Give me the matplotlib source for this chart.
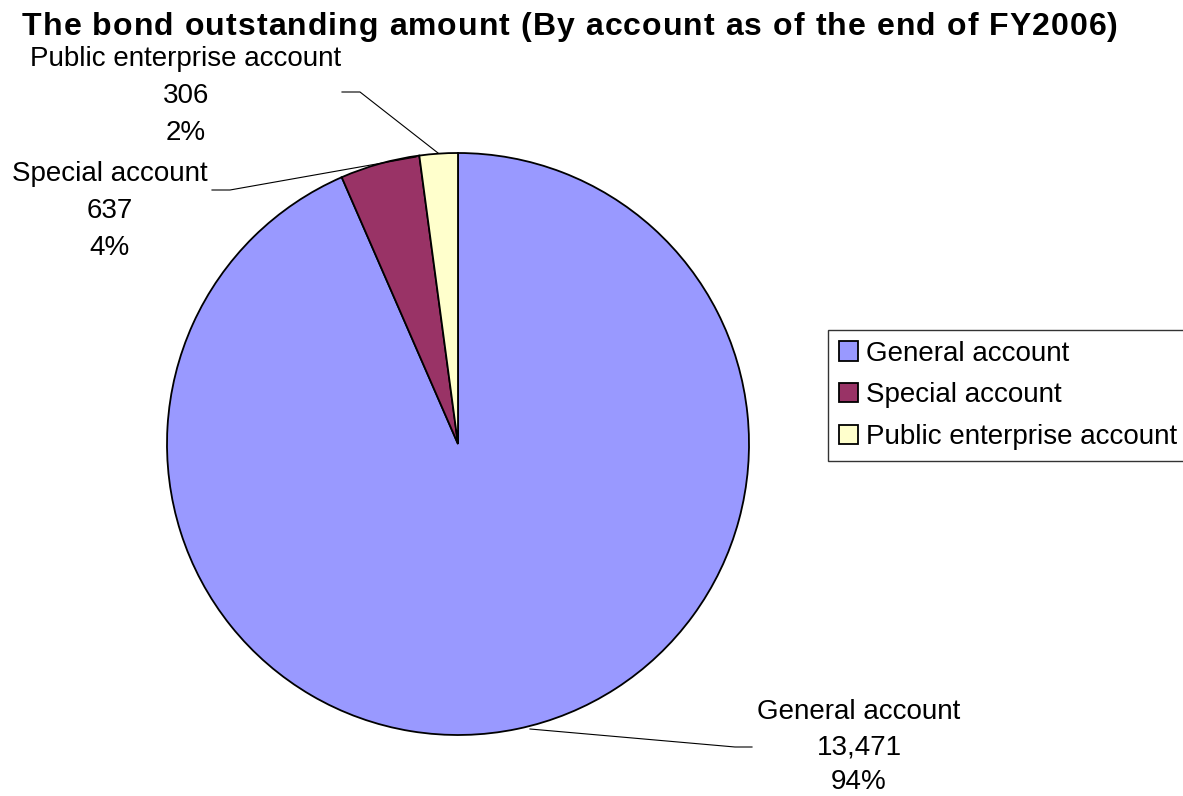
# bond outstanding amount by account, FY2006 - pie with leader labels and legend

import matplotlib.pyplot as plt
from matplotlib.font_manager import FontProperties

plt.rcParams['font.family'] = ['Liberation Sans', 'DejaVu Sans']

accounts = ['General account', 'Special account', 'Public enterprise account']
amounts = [13471, 637, 306]
shares = [94, 4, 2]  # percent, as printed on the labels
colors = ['#9999FF', '#993366', '#FFFFCC']
title = 'The bond outstanding amount (By account as of the end of FY2006)'

W, H = 1183, 796


def px(x, y):
    # pixel position from top-left -> data coords
    return x, H - y


fig = plt.figure(figsize=(W / 100, H / 100), dpi=100)
ax = fig.add_axes([0, 0, 1, 1])

wedges, _ = ax.pie(amounts, colors=colors, startangle=90, counterclock=False,
                   center=px(458, 444), radius=291,
                   wedgeprops=dict(edgecolor='black', linewidth=1.3))
ax.set_xlim(0, W)
ax.set_ylim(0, H)
ax.set_aspect('equal')
ax.axis('off')

# label blocks and leader lines
label_pos = [(859, 747), (110, 211), (186, 96)]
spacing = [1.45, 1.55, 1.55]
leaders = [
    [(530, 729), (735, 747), (752, 747)],
    [(212, 190), (230, 190), (416, 157)],
    [(342, 92), (360, 92), (438, 153)],
]
for name, amt, pct, (lx, ly), ls, pts in zip(accounts, amounts, shares,
                                              label_pos, spacing, leaders):
    ax.text(*px(lx, ly), f'{name}\n{amt:,}\n{pct}%', ha='center', va='center',
            fontsize=20, linespacing=ls)
    xs, ys = zip(*[px(x, y) for x, y in pts])
    ax.plot(xs, ys, color='black', linewidth=0.8)

# title, drawn char by char with a bit of tracking between letters
renderer = fig.canvas.get_renderer()
tprop = FontProperties(family=['Liberation Sans', 'DejaVu Sans'], weight='bold', size=23)


def adv(s):
    w, _, _ = renderer.get_text_width_height_descent('x' + s + 'x', tprop, ismath=False)
    w0, _, _ = renderer.get_text_width_height_descent('xx', tprop, ismath=False)
    return w - w0


widths = [adv(c) for c in title]
x_left, x_right = 22, 1118
track = (x_right - x_left - sum(widths)) / (len(title) - 1)
x = x_left
for c, w in zip(title, widths):
    if c != ' ':
        fig.text(x / W, 1 - 35 / H, c, fontproperties=tprop, ha='left', va='baseline')
    x += w + track

leg = fig.legend(wedges, accounts, loc='upper left',
                 bbox_to_anchor=(828 / W, 1 - 330 / H), fontsize=20,
                 frameon=True, fancybox=False, shadow=False,
                 handlelength=0.7, handleheight=0.7, handletextpad=0.3,
                 labelspacing=0.57, borderpad=0.38, borderaxespad=0)
leg.get_frame().set_edgecolor('black')
leg.get_frame().set_linewidth(1.0)

plt.savefig('out.png', dpi=100)
